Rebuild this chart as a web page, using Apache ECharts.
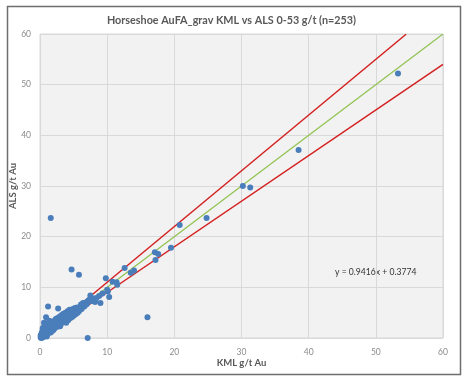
<!DOCTYPE html>
<html>
<head>
<meta charset="utf-8">
<script src="https://cdn.jsdelivr.net/npm/echarts@6/dist/echarts.min.js"></script>
<style>
  html, body { margin: 0; padding: 0; background: #fff; }
  #chart { width: 463px; height: 377px; }
</style>
</head>
<body>
<div id="chart"></div>
<script>
  // KML vs ALS pairs (g/t Au)
  var samples = [
    [0.1,0.1],[0.2,0.3],[0.3,0.2],[0.4,0.6],[0.5,0.4],[0.6,0.9],[0.7,0.5],[0.8,1.0],[0.9,0.8],[1.0,1.3],
    [0.2,0.8],[0.3,1.2],[0.5,1.6],[0.6,2.2],[0.4,1.9],[1.1,0.7],[1.2,1.5],[1.3,1.1],[1.4,1.8],[1.5,1.4],
    [0.1,0.5],[0.2,0.0],[0.4,0.1],[0.6,0.3],[0.8,0.4],[1.0,0.3],[1.2,0.9],[0.3,0.7],[0.7,1.4],[0.9,1.7],
    [1.6,2.0],[1.7,1.6],[1.8,2.3],[1.9,1.9],[2.0,2.5],[2.1,2.0],[2.2,2.8],[2.3,2.3],[2.4,3.0],[2.5,2.6],
    [1.6,1.1],[1.8,1.4],[2.0,1.6],[2.2,1.9],[1.5,2.6],[1.7,2.9],[2.0,3.3],[2.3,3.6],[1.4,3.4],[1.2,2.5],
    [2.6,3.3],[2.7,2.9],[2.8,3.5],[2.9,3.1],[3.0,3.6],[3.1,3.2],[3.2,3.9],[3.3,3.4],[3.4,4.1],[3.5,3.6],
    [2.6,2.2],[2.8,2.5],[3.0,2.3],[3.2,2.9],[3.4,3.1],[2.7,4.0],[3.0,4.3],[3.3,4.6],[2.4,3.8],[2.9,3.8],
    [3.6,4.3],[3.7,3.9],[3.8,4.4],[3.9,3.6],[4.0,4.6],[4.1,4.2],[4.2,5.1],[4.3,4.4],[4.5,4.9],[4.6,4.0],
    [3.6,3.3],[3.9,3.0],[4.2,3.5],[4.4,3.9],[3.8,5.0],[4.1,5.3],[4.4,5.6],[3.5,4.8],[4.0,3.9],[4.8,4.2],
    [4.7,5.3],[4.8,4.6],[5.0,5.4],[5.1,4.8],[5.3,5.6],[5.4,5.0],[5.6,5.8],[5.8,5.3],[6.0,6.1],[6.2,5.7],
    [5.0,4.4],[5.3,4.7],[5.6,5.0],[5.2,5.9],[5.5,6.0],[4.9,5.7],[5.9,5.6],[6.1,6.6],[6.4,6.9],[6.9,6.6],
    [6.3,6.3],[6.6,6.2],[6.8,7.0],[7.0,6.8],[7.2,7.4],[7.4,7.6],[7.5,8.4],[7.7,7.3],[7.9,7.8],[8.2,7.1],
    [8.4,7.9],[8.8,8.3],[9.0,6.9],[9.3,8.8],[10.0,9.5],[10.1,9.2],[10.3,8.1],[10.8,11.1],[11.4,11.0],[11.5,10.5],
    [9.8,11.8],[12.6,13.8],[13.5,12.9],[14.0,13.3],[17.1,16.9],[17.6,16.6],[17.2,15.4],[19.5,17.8],[20.8,22.3],[24.8,23.7],
    [30.2,30.0],[31.3,29.7],[38.5,37.1],[53.3,52.2],
    [1.6,23.7],[4.7,13.5],[5.8,12.5],[1.2,6.2],[2.7,5.8],[0.9,4.1],[7.1,0.0],[16.0,4.1],[1.0,2.9],[0.6,3.0]
  ];
  // reference lines: x values and slopes
  var lineX = [0, 60];
  var upperX = [0, 54.5];
  var oneToOne = 1.0;
  var upperSlope = 1.1;
  var lowerSlope = 0.9;
  var trendText = 'y = 0.9416x + 0.3774';

  var chart = echarts.init(document.getElementById('chart'));
  var grey = '#595959';
  chart.setOption({
    animation: false,
    backgroundColor: '#fff',
    title: {
      text: 'Horseshoe AuFA_grav KML vs ALS 0-53 g/t (n=253)',
      left: 'center',
      top: 10,
      textStyle: { fontFamily: 'Lato', fontSize: 10.8, fontWeight: 'bold', color: grey }
    },
    grid: {
      left: 40, right: 20, top: 34, bottom: 39,
      outerBoundsMode: 'none', containLabel: false,
      show: true, backgroundColor: '#f2f2f2', borderColor: '#d9d9d9', borderWidth: 1
    },
    xAxis: {
      type: 'value', min: 0, max: 60, interval: 10,
      name: 'KML g/t Au', nameLocation: 'middle', nameGap: 20, nameMoveOverlap: false,
      nameTextStyle: { fontFamily: 'Lato', fontSize: 9.5, fontWeight: 'bold', color: grey },
      axisLine: { show: false }, axisTick: { show: false },
      axisLabel: { fontFamily: 'Lato', fontSize: 8.5, color: '#8c8c8c', margin: 10 },
      splitLine: { lineStyle: { color: '#d9d9d9' } }
    },
    yAxis: {
      type: 'value', min: 0, max: 60, interval: 10,
      name: 'ALS g/t Au', nameLocation: 'middle', nameGap: 22, nameMoveOverlap: false,
      nameTextStyle: { fontFamily: 'Lato', fontSize: 9.5, fontWeight: 'bold', color: grey },
      axisLine: { show: false }, axisTick: { show: false },
      axisLabel: { fontFamily: 'Lato', fontSize: 8.5, color: '#8c8c8c', margin: 9 },
      splitLine: { lineStyle: { color: '#d9d9d9' } }
    },
    series: [
      {
        type: 'line', data: lineX.map(function (x) { return [x, x * oneToOne]; }),
        symbol: 'none', lineStyle: { color: '#92c353', width: 1.3 }, z: 2
      },
      {
        type: 'line', data: upperX.map(function (x) { return [x, x * upperSlope]; }),
        symbol: 'none', lineStyle: { color: '#d42020', width: 1.5 }, z: 2
      },
      {
        type: 'line', data: lineX.map(function (x) { return [x, x * lowerSlope]; }),
        symbol: 'none', lineStyle: { color: '#d42020', width: 1.5 }, z: 2
      },
      {
        type: 'scatter', data: samples, symbolSize: 6,
        itemStyle: { color: '#4a7ebb', opacity: 1 }, z: 3
      }
    ],
    graphic: [
      {
        type: 'rect', left: 5, top: 4,
        shape: { width: 453, height: 368 },
        style: { fill: 'none', stroke: '#6e6e6e', lineWidth: 1.5 }, silent: true
      },
      {
        type: 'text', left: 335, top: 268,
        style: { text: trendText, fontFamily: 'Lato', fontSize: 8.6, fill: '#333' }
      }
    ]
  });
</script>
</body>
</html>
